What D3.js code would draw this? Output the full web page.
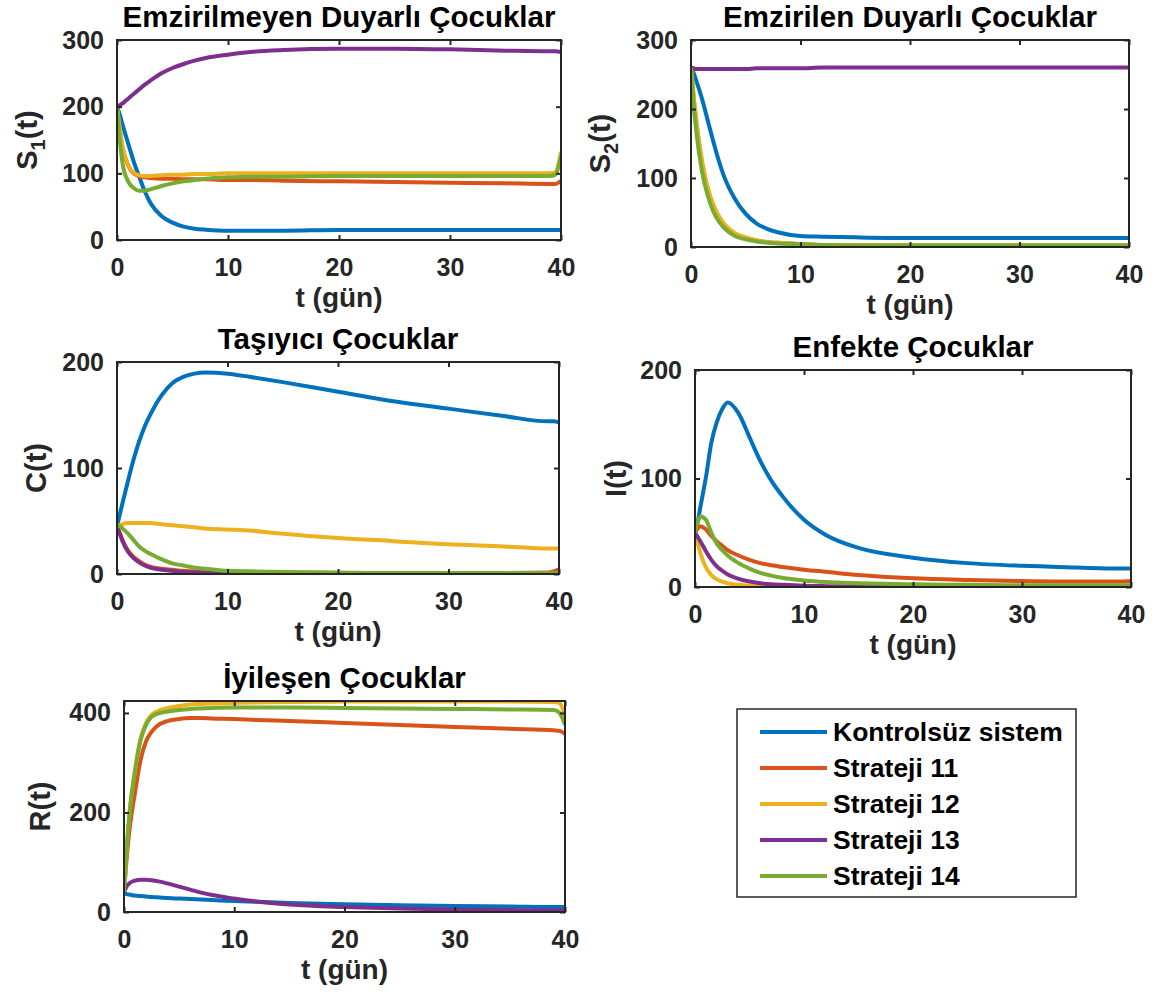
<!DOCTYPE html>
<html>
<head>
<meta charset="utf-8">
<script src="https://cdn.jsdelivr.net/npm/d3@7"></script>
<style>
body { margin: 0; background: #fff; }
text { font-family: "Liberation Sans", Arial, Helvetica, sans-serif; font-weight: bold; }
</style>
</head>
<body>
<script>
// time axis (days) shared by every panel
var days = [0, 0.25, 0.5, 1, 1.5, 2, 2.5, 3, 4, 5, 6, 7, 8, 10, 12, 15, 20, 25, 30, 35, 39, 39.5, 40];
var seriesNames = ["Kontrolsüz sistem", "Strateji 11", "Strateji 12", "Strateji 13", "Strateji 14"];
var xTicks = [0, 10, 20, 30, 40];

// S1(t) - order: kontrolsuz, 11, 12, 13, 14
var s1Values = [
    [200, 188, 173, 145, 118, 95, 73, 56, 36, 26, 20, 17, 15.5, 14, 14, 14, 15, 15, 15, 15, 15, 15, 15],
    [200, 165, 138, 112, 100, 96, 94, 93, 92, 92, 91, 91, 91, 90, 90, 89, 88, 87, 86, 85, 84, 84, 89],
    [200, 168, 140, 113, 101, 97, 96, 96, 97, 98, 98, 99, 99, 100, 100, 100, 100, 100, 100, 100, 100, 102, 132],
    [200, 202, 205, 212, 219, 226, 233, 239, 250, 258, 264, 269, 273, 278, 282, 285, 287, 287, 286, 284, 283, 283, 282],
    [200, 150, 115, 88, 78, 74, 74, 76, 81, 85, 88, 90, 92, 94, 95, 95, 96, 96, 96, 96, 96, 98, 126]
];
var s1Ticks = [0, 100, 200, 300];

// S2(t)
var s2Values = [
    [260, 252, 240, 215, 185, 155, 127, 103, 70, 48, 34, 26, 21, 16, 15, 14, 13, 13, 13, 13, 13, 13, 13],
    [260, 215, 178, 122, 85, 60, 43, 32, 19, 13, 9, 7, 6, 4, 3, 3, 2, 2, 2, 2, 2, 2, 2],
    [260, 218, 182, 126, 88, 63, 46, 34, 20, 14, 10, 7, 6, 4, 3, 3, 2, 2, 2, 2, 2, 2, 2],
    [260, 259, 258, 258, 258, 258, 258, 258, 258, 258, 259, 259, 259, 259, 260, 260, 260, 260, 260, 260, 260, 260, 260],
    [260, 205, 165, 110, 76, 53, 38, 28, 16, 11, 8, 6, 5, 4, 3, 2, 2, 2, 2, 2, 2, 2, 2]
];
var s2Ticks = [0, 100, 200, 300];

// C(t)
var cValues = [
    [45, 56, 67, 88, 108, 125, 139, 150, 168, 180, 186, 189, 190, 189, 186, 181, 172, 163, 156, 149, 144, 144, 143],
    [45, 39, 32, 22, 16, 12, 9, 7, 5, 4, 3, 2.5, 2, 1.5, 1, 1, 1, 1, 1, 1, 1.5, 2.5, 4.5],
    [45, 46, 47, 48, 48, 48, 48, 48, 47, 46, 45, 44, 43, 42, 41, 38, 34, 31, 28, 26, 24, 24, 24],
    [45, 38, 31, 21, 15, 11, 8, 6, 4, 3, 2, 1.5, 1, 0.5, 0.4, 0.3, 0.2, 0.2, 0.2, 0.2, 0.2, 0.2, 0.2],
    [45, 45, 43, 38, 32, 26, 22, 19, 14, 10, 8, 6, 5, 3, 2.5, 2, 1.5, 1, 1, 1, 1, 1, 1]
];
var cTicks = [0, 100, 200];

// I(t)
var iValues = [
    [50, 60, 74, 101, 133, 152, 164, 170, 160, 138, 116, 98, 84, 62, 48, 36, 27, 22, 19.5, 18, 17, 17, 17],
    [50, 54, 56, 53, 47, 42, 38, 34, 29, 25, 22, 20, 18.5, 16, 14, 11, 8, 6.5, 5.5, 5, 5, 5.2, 5.5],
    [50, 40, 31, 18, 11, 7, 5, 3.5, 2, 1.2, 0.8, 0.5, 0.4, 0.3, 0.2, 0.2, 0.2, 0.2, 0.2, 0.2, 0.2, 0.2, 0.2],
    [50, 46, 42, 33, 25, 19, 15, 11.5, 7.5, 5, 3.5, 2.5, 2, 1.2, 0.8, 0.5, 0.3, 0.3, 0.3, 0.3, 0.3, 0.3, 0.3],
    [50, 60, 65, 62, 50, 40, 34, 29, 22, 17, 13, 10.5, 8.5, 6, 4.5, 3.5, 2.5, 2, 1.5, 1.5, 1.5, 1.5, 1.5]
];
var iTicks = [0, 100, 200];

// R(t)
var rValues = [
    [38, 36, 35, 33, 32, 31, 30, 29.5, 28, 27, 26, 25, 24, 22, 20.5, 18, 15.5, 13.5, 12, 11, 10, 10, 10],
    [40, 110, 165, 240, 305, 343, 362, 374, 384, 388, 390, 390, 389, 388, 386, 384, 380, 376, 372, 368, 365, 364, 358],
    [40, 130, 200, 285, 348, 380, 396, 403, 410, 414, 417, 418, 419, 420, 421, 422, 423, 423, 423, 423, 422, 420, 393],
    [40, 52, 58, 63, 65, 65, 64, 62, 57, 51, 45, 39, 34, 27, 21, 15, 10, 7, 5, 4, 3, 3, 3],
    [40, 128, 198, 283, 345, 376, 392, 398, 403, 406, 408, 409, 410, 411, 411, 411, 410, 409, 408, 407, 406, 400, 376]
];
var rTicks = [0, 200, 400];

var colors = ["#0072BD", "#D95319", "#EDB120", "#7E2F8E", "#77AC30"];
var axisColor = "#262626";

var panels = [
    { title: "Emzirilmeyen Duyarlı Çocuklar", label: ["S", "1", "(t)"], values: s1Values, ticks: s1Ticks, yMax: 300,
      left: 117, right: 561, top: 40, bottom: 240, labelX: 37 },
    { title: "Emzirilen Duyarlı Çocuklar", label: ["S", "2", "(t)"], values: s2Values, ticks: s2Ticks, yMax: 300,
      left: 691, right: 1129, top: 40, bottom: 247, labelX: 610 },
    { title: "Taşıyıcı Çocuklar", label: ["C(t)"], values: cValues, ticks: cTicks, yMax: 200,
      left: 117, right: 559, top: 362, bottom: 574, labelX: 46 },
    { title: "Enfekte Çocuklar", label: ["I(t)"], values: iValues, ticks: iTicks, yMax: 200,
      left: 695, right: 1131, top: 370, bottom: 587, labelX: 626 },
    { title: "İyileşen Çocuklar", label: ["R(t)"], values: rValues, ticks: rTicks, yMax: 424,
      left: 124, right: 565, top: 701, bottom: 912, labelX: 50 }
];

var svg = d3.select("body").append("svg")
    .attr("width", 1158)
    .attr("height", 992);

panels.forEach(function (p, k) {
    var x = d3.scaleLinear().domain([0, 40]).range([p.left, p.right]);
    var y = d3.scaleLinear().domain([0, p.yMax]).range([p.bottom, p.top]);
    var g = svg.append("g");

    g.append("clipPath").attr("id", "clip" + k)
        .append("rect")
        .attr("x", p.left).attr("y", p.top)
        .attr("width", p.right - p.left).attr("height", p.bottom - p.top);

    var line = d3.line()
        .x(function (d, i) { return x(days[i]); })
        .y(function (d) { return y(d); })
        .curve(d3.curveMonotoneX);

    g.append("g").attr("clip-path", "url(#clip" + k + ")")
        .selectAll("path")
        .data(p.values)
        .enter()
        .append("path")
            .attr("d", line)
            .attr("fill", "none")
            .attr("stroke", function (d, i) { return colors[i]; })
            .attr("stroke-width", 4)
            .attr("stroke-linejoin", "round");

    // ticks inside on all four sides
    var ax = [
        g.append("g").attr("transform", "translate(0," + p.bottom + ")")
            .call(d3.axisBottom(x).tickValues(xTicks).tickSize(-5).tickPadding(18)),
        g.append("g").attr("transform", "translate(" + p.left + ",0)")
            .call(d3.axisLeft(y).tickValues(p.ticks).tickSize(-5).tickPadding(13)),
        g.append("g").attr("transform", "translate(0," + p.top + ")")
            .call(d3.axisTop(x).tickValues(xTicks).tickSize(-5).tickFormat("")),
        g.append("g").attr("transform", "translate(" + p.right + ",0)")
            .call(d3.axisRight(y).tickValues(p.ticks).tickSize(-5).tickFormat(""))
    ];
    ax.forEach(function (a) {
        a.select(".domain").remove();
        a.selectAll("line").attr("stroke", axisColor).attr("stroke-width", 2);
        a.selectAll("text")
            .attr("fill", axisColor)
            .style("font-size", "25px")
            .style("font-family", "'Liberation Sans', Arial, sans-serif")
            .style("font-weight", "bold");
    });

    g.append("rect")
        .attr("x", p.left).attr("y", p.top)
        .attr("width", p.right - p.left).attr("height", p.bottom - p.top)
        .attr("fill", "none")
        .attr("stroke", axisColor)
        .attr("stroke-width", 2);

    g.append("text")
        .attr("x", (p.left + p.right) / 2)
        .attr("y", p.top - 13)
        .attr("text-anchor", "middle")
        .style("font-size", "29.5px")
        .text(p.title);

    g.append("text")
        .attr("x", (p.left + p.right) / 2)
        .attr("y", p.bottom + 67)
        .attr("text-anchor", "middle")
        .attr("fill", axisColor)
        .style("font-size", "28px")
        .text("t (gün)");

    var yl = g.append("text")
        .attr("transform", "translate(" + p.labelX + "," + (p.top + p.bottom) / 2 + ") rotate(-90)")
        .attr("text-anchor", "middle")
        .attr("fill", axisColor)
        .style("font-size", "29px");
    if (p.label.length === 3) {
        yl.append("tspan").text(p.label[0]);
        yl.append("tspan").attr("dy", 8).style("font-size", "20px").text(p.label[1]);
        yl.append("tspan").attr("dy", -8).text(p.label[2]);
    } else {
        yl.text(p.label[0]);
    }
});

// legend
var legend = svg.append("g");
legend.append("rect")
    .attr("x", 737).attr("y", 709)
    .attr("width", 339).attr("height", 188)
    .attr("fill", "#fff")
    .attr("stroke", axisColor)
    .attr("stroke-width", 1.5);

var rows = legend.selectAll("g.row")
    .data(seriesNames)
    .enter()
    .append("g")
        .attr("class", "row")
        .attr("transform", function (d, i) { return "translate(0," + (732 + i * 36) + ")"; });

rows.append("line")
    .attr("x1", 760).attr("x2", 827)
    .attr("stroke", function (d, i) { return colors[i]; })
    .attr("stroke-width", 4);

rows.append("text")
    .attr("x", 833)
    .attr("dy", "0.35em")
    .style("font-size", "26.5px")
    .text(function (d) { return d; });
</script>
</body>
</html>
